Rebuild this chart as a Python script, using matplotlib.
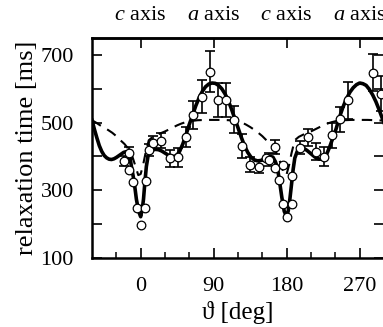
import matplotlib
matplotlib.use("Agg")
import matplotlib.pyplot as plt
import numpy as np

plt.rcParams['font.family'] = ['Liberation Serif', 'DejaVu Serif']
plt.rcParams['mathtext.fontset'] = 'custom'
plt.rcParams['mathtext.rm'] = 'Liberation Serif'
plt.rcParams['mathtext.it'] = 'Liberation Serif:italic'

# measured points: angle [deg], relaxation time [ms], error [ms]
pt_angle = [-20, -14, -14, -9.5, -4.5, 0, 5.5, 6, 10, 15, 25, 36, 46, 56, 65, 76, 86,
            95, 105, 115, 125, 135, 146, 155, 158, 166, 166, 171, 175, 175.5, 180.5,
            186, 186, 196, 206, 216, 226, 236, 246, 256, 286, 296]
pt_time = [386, 410, 359, 325, 249, 198, 249, 328, 418, 440, 446, 395, 398, 457, 522, 577, 651,
           568, 568, 509, 430, 376, 369, 396, 391, 428, 367, 330, 374, 259, 222,
           259, 343, 426, 457, 414, 399, 462, 510, 566, 648, 586]
pt_err = [15, 17, 0, 0, 0, 0, 0, 0, 18, 20, 22, 25, 28, 30, 42, 48, 62,
          50, 50, 40, 35, 22, 18, 0, 20, 20, 0, 0, 0, 0, 0,
          0, 0, 20, 25, 25, 28, 37, 37, 54, 55, 52]

# solid model curve
fit_angle = [-60, -57, -54, -51, -48, -45, -42, -39, -36, -33, -30, -27, -24, -21, -18, -15,
             -13, -11.5, -8, -5.3, -2.5, 0, 2, 3.5, 5, 7, 9, 11, 14, 18, 22, 26, 30, 34, 38,
             42, 45, 48, 52, 56, 60, 64, 68, 72, 76, 80, 84, 88, 92, 96, 100, 104, 108, 112,
             116, 120, 124, 128, 132, 136, 140, 144, 148, 152, 156, 160, 163, 166, 168.5,
             171, 174, 177, 180, 182, 184, 186, 188, 190, 193, 197, 201, 205, 210, 215, 220,
             225, 229, 233, 237, 241, 245, 249, 253, 258, 262, 266, 270, 274, 278, 282, 286,
             290, 294, 298, 300]
fit_time = [507, 480, 455, 432, 415, 403, 396, 392, 391, 393, 397, 402, 407, 412, 414, 410,
            395, 372, 325, 274, 238, 222, 245, 274, 318, 370, 400, 413, 419, 421, 420, 416,
            410, 404, 400, 400, 405, 415, 437, 465, 495, 522, 550, 573, 592, 606, 614, 617,
            616, 610, 600, 585, 565, 540, 512, 485, 457, 432, 412, 398, 390, 387, 388, 392,
            397, 400, 398, 385, 368, 330, 280, 238, 222, 240, 275, 318, 362, 395, 415, 424,
            424, 418, 408, 398, 392, 392, 405, 428, 455, 482, 515, 543, 567, 590, 603, 612,
            617, 615, 610, 598, 582, 562, 538, 512, 500]

# dashed model curve
dash_angle = [-60, -55, -50, -45, -40, -35, -30, -25, -20, -15, -10, -6, -3, 0, 3, 6, 10,
              15, 20, 25, 30, 35, 40, 45, 50, 55, 60, 70, 80, 90, 100, 110, 120, 125, 130,
              135, 140, 145, 150, 155, 160, 165, 170, 174, 177, 180, 183, 186, 190, 195, 200,
              205, 210, 215, 220, 225, 230, 235, 240, 250, 260, 270, 280, 290, 300]
dash_time = [507, 500, 492, 485, 478, 470, 460, 448, 437, 422, 398, 368, 345, 348, 375, 410,
             448, 458, 464, 469, 474, 480, 486, 492, 497, 501, 504, 507, 508, 508, 508, 507,
             505, 500, 494, 487, 479, 470, 460, 448, 437, 422, 398, 368, 345, 348, 375, 410,
             448, 458, 464, 469, 474, 480, 486, 492, 497, 501, 504, 507, 508, 508, 508, 507,
             506]

x_ticks = [0, 90, 180, 270]
x_minor = [-30, 30, 60, 120, 150, 210, 240]
top_labels = ['$c$ axis', '$a$ axis', '$c$ axis', '$a$ axis']
y_ticks = [100, 200, 300, 400, 500, 600, 700]
y_labels = ['100', '', '300', '', '500', '', '700']

W, H = 383, 327
fig = plt.figure(figsize=(W / 100, H / 100), dpi=100)
ax = fig.add_axes([92 / W, 69 / H, 292 / W, 220 / H])

ax.plot(dash_angle, dash_time, color='k', lw=1.5, ls=(0, (5, 3.5)), zorder=2)
ax.plot(fit_angle, fit_time, color='k', lw=2.6, zorder=3, solid_joinstyle='round')

pa = np.array(pt_angle, float)
pt = np.array(pt_time, float)
pe = np.array(pt_err, float)
m = pe > 0
ax.errorbar(pa[m], pt[m], yerr=pe[m], fmt='none', ecolor='k', elinewidth=1.2,
            capsize=3.3, capthick=1.2, zorder=4)
ax.plot(pa, pt, 'o', ms=6.2, mfc='white', mec='k', mew=0.9, zorder=5)

ax.set_xlim(-60, 300)
ax.set_ylim(100, 750)
ax.set_xticks(x_ticks)
ax.set_xticklabels([str(v) for v in x_ticks])
ax.set_xticks(x_minor, minor=True)
ax.set_yticks(y_ticks)
ax.set_yticklabels(y_labels)

ax.tick_params(axis='both', which='major', direction='in', length=7.5, width=1.2,
               labelsize=16)
ax.tick_params(axis='x', which='major', pad=14)
ax.tick_params(axis='x', which='minor', direction='in', length=4.3, width=1.1)
ax.tick_params(axis='y', which='major', right=True, pad=13)
for s in ax.spines.values():
    s.set_linewidth(1.8)

sec = ax.secondary_xaxis('top')
sec.set_xticks(x_ticks)
sec.set_xticklabels(top_labels)
sec.tick_params(direction='in', length=7.5, width=1.2, labelsize=16, pad=9)
sec.spines['top'].set_linewidth(1.8)

ax.set_xlabel('ϑ [deg]', fontsize=18, labelpad=3)
ax.set_ylabel('relaxation time [ms]', fontsize=19, labelpad=2)

fig.savefig('out.png', dpi=100)
